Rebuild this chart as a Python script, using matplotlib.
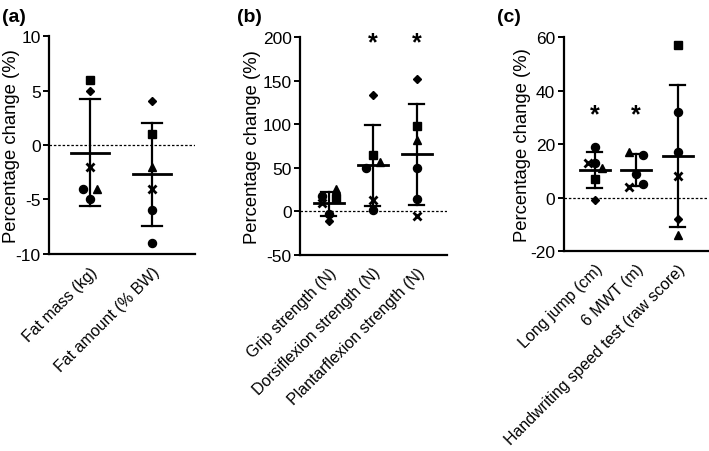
import matplotlib.pyplot as plt
import matplotlib.transforms as mtransforms
import numpy as np

plt.rcParams['font.family'] = ['Liberation Sans', 'DejaVu Sans']
plt.rcParams['axes.unicode_minus'] = False

# panel (a)
labels_a = ['Fat mass (kg)', 'Fat amount (% BW)']
vals_a = [[6, 5, -2, -4, -4, -5], [4, 1, -2, -4, -6, -9]]
mark_a = [['s', 'D', 'x', 'o', '^', 'o'], ['D', 's', '^', 'x', 'o', 'o']]
off_a = [[0, 0, 0, -1, 1, 0], [0, 0, 0, 0, 0, 0]]
mean_a = [-0.7, -2.7]
upper_a = [4.2, 2.0]
lower_a = [-5.6, -7.4]

# panel (b)
labels_b = ['Grip strength (N)', 'Dorsiflexion strength (N)', 'Plantarflexion strength (N)']
vals_b = [[18, 10, 25, 15, -3, -11], [133, 64, 50, 56, 13, 1], [152, 98, 82, 50, 14, -5]]
mark_b = [['o', 'x', '^', 's', 'o', 'D'], ['D', 's', 'o', '^', 'x', 'o'], ['D', 's', '^', 'o', 'o', 'x']]
off_b = [[-1, -1, 1, 1, 0, 0], [0, 0, -1, 1, 0, 0], [0, 0, 0, 0, 0, 0]]
mean_b = [9, 53, 65.5]
upper_b = [22.5, 99, 123]
lower_b = [-5, 6, 7]
star_b = [False, True, True]

# panel (c)
labels_c = ['Long jump (cm)', '6 MWT (m)', 'Handwriting speed test (raw score)']
vals_c = [[19, 13, 13, 11, 7, -1], [17, 16, 9, 4, 5], [57, 32, 17, 8, -8, -14]]
mark_c = [['o', 'x', 'o', '^', 's', 'D'], ['^', 'o', 'o', 'x', 'o'], ['s', 'o', 'o', 'x', 'D', '^']]
off_c = [[0, -1, 0, 1, 0, 0], [-1, 1, 0, -1, 1], [0, 0, 0, 0, 0, 0]]
mean_c = [10.4, 10.2, 15.4]
upper_c = [17.1, 16.2, 41.9]
lower_c = [3.5, 4.2, -11]
star_c = [True, True, False]

msize = {'o': 5.8, 's': 5.2, '^': 5.5, 'D': 3.8, 'x': 5.5}


def panel(ax, labels, vals, marks, offs, means, ups, lows, stars, ylim, yticks,
          xlim, jit, mw, cw, star_y, label_x):
    for i in range(len(labels)):
        for v, m, o in zip(vals[i], marks[i], offs[i]):
            ax.plot(i + o * jit, v, marker=m, color='black', ms=msize[m],
                    mew=2 if m == 'x' else 1, linestyle='none', zorder=3)
        ax.plot([i, i], [lows[i], ups[i]], color='black', lw=1.6, zorder=2)
        ax.plot([i - cw / 2, i + cw / 2], [ups[i], ups[i]], color='black', lw=1.6)
        ax.plot([i - cw / 2, i + cw / 2], [lows[i], lows[i]], color='black', lw=1.6)
        ax.plot([i - mw / 2, i + mw / 2], [means[i], means[i]], color='black', lw=2)
        if stars[i]:
            ax.text(i, star_y, '*', ha='center', va='center', fontsize=18,
                    fontweight='bold')
    ax.axhline(0, color='black', lw=0.9, ls=(0, (2, 1.5)), zorder=1)
    ax.set_xlim(*xlim)
    ax.set_ylim(*ylim)
    ax.set_yticks(yticks)
    ax.set_xticks(range(len(labels)))
    ax.set_xticklabels(labels, rotation=45, ha='right', rotation_mode='anchor',
                       fontsize=11.5)
    ax.tick_params(axis='x', length=0, pad=7)
    ax.tick_params(axis='y', length=4.5, width=1.4, labelsize=12.5, pad=1.5)
    for s in ['top', 'right']:
        ax.spines[s].set_visible(False)
    for s in ['left', 'bottom']:
        ax.spines[s].set_linewidth(1.6)
    ax.set_ylabel('Percentage change (%)', fontsize=13.3)
    tr = mtransforms.blended_transform_factory(fig.transFigure, ax.transAxes)
    ax.yaxis.set_label_coords(label_x / 709, 0.5, transform=tr)


fig = plt.figure(figsize=(7.09, 4.52), dpi=100)
ax_a = fig.add_axes([0.069, 0.436, 0.206, 0.482])
ax_b = fig.add_axes([0.423, 0.434, 0.207, 0.482])
ax_c = fig.add_axes([0.795, 0.442, 0.203, 0.474])

panel(ax_a, labels_a, vals_a, mark_a, off_a, mean_a, upper_a, lower_a,
      [False, False], (-10, 10), [-10, -5, 0, 5, 10], (-0.66, 1.69), 0.11,
      0.6, 0.32, 0, 20)
panel(ax_b, labels_b, vals_b, mark_b, off_b, mean_b, upper_b, lower_b,
      star_b, (-50, 200), [-50, 0, 50, 100, 150, 200], (-0.66, 2.68), 0.16,
      0.68, 0.34, 194, 261)
panel(ax_c, labels_c, vals_c, mark_c, off_c, mean_c, upper_c, lower_c,
      star_c, (-20, 60), [-20, 0, 20, 40, 60], (-0.75, 2.72), 0.17,
      0.72, 0.36, 31, 531)

for tag, xp in [('(a)', 2), ('(b)', 237), ('(c)', 497)]:
    fig.text(xp / 709, 1 - 22 / 452, tag, fontsize=14, fontweight='bold',
             ha='left', va='baseline')

fig.savefig('out.png', dpi=100)
